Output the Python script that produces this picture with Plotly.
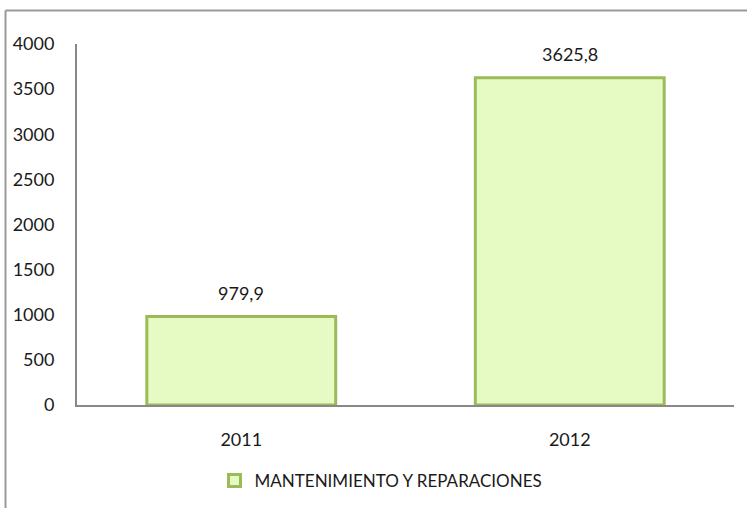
import plotly.graph_objects as go

categories = ["2011", "2012"]
values = [979.9, 3625.8]
series_name = "MANTENIMIENTO Y REPARACIONES"
y_ticks = [0, 500, 1000, 1500, 2000, 2500, 3000, 3500, 4000]

W, H = 747, 508
ml, mr, mt, mb = 77, 13, 44, 103
pw, ph = W - ml - mr, H - mt - mb

def px_x(x):
    return (x - ml) / pw

def px_y(y):
    return (H - mb - y) / ph

font = "Lato"
txt = "#1a1a1a"

fig = go.Figure()
fig.add_trace(go.Bar(
    x=categories, y=values, name=series_name,
    marker=dict(color="#E5FBC3", line=dict(color="#9BBB59", width=3)),
    cliponaxis=False, showlegend=True, hoverinfo="skip",
))

for i, v in enumerate(values):
    fig.add_annotation(x=i, y=v, xref="x", yref="y",
                       text=f"{v:.1f}".replace(".", ","),
                       showarrow=False, yanchor="bottom", yshift=11,
                       font=dict(family=font, size=18, color=txt))

fig.update_layout(
    width=W, height=H,
    margin=dict(l=ml, r=mr, t=mt, b=mb, autoexpand=False),
    paper_bgcolor="white", plot_bgcolor="white",
    bargap=0.425,
    font=dict(family=font, size=18, color=txt),
    xaxis=dict(type="category", categoryorder="array", categoryarray=categories,
               range=[-0.5, len(categories) - 0.5],
               showline=True, linecolor="#888", linewidth=2,
               showgrid=False, ticks="", ticklabelstandoff=17,
               tickfont=dict(family=font, size=18, color=txt)),
    yaxis=dict(range=[0, 4000], tickvals=y_ticks, showline=True, linecolor="#888",
               linewidth=2, showgrid=False, zeroline=False, ticks="",
               ticklabelstandoff=17,
               tickfont=dict(family=font, size=18, color=txt)),
    legend=dict(orientation="h", x=px_x(381), xanchor="center",
                y=px_y(481), yanchor="middle",
                font=dict(family=font, size=17, color=txt),
                itemwidth=30),
    shapes=[
        dict(type="line", xref="paper", yref="paper",
             x0=px_x(5.5), x1=px_x(760), y0=px_y(10.5), y1=px_y(10.5),
             line=dict(color="#999", width=2)),
        dict(type="line", xref="paper", yref="paper",
             x0=px_x(5.5), x1=px_x(5.5), y0=px_y(10.5), y1=px_y(520),
             line=dict(color="#999", width=2)),
    ],
)

fig.write_html("out.html", config={"displayModeBar": False},
               post_script="document.body.style.margin='0';")
